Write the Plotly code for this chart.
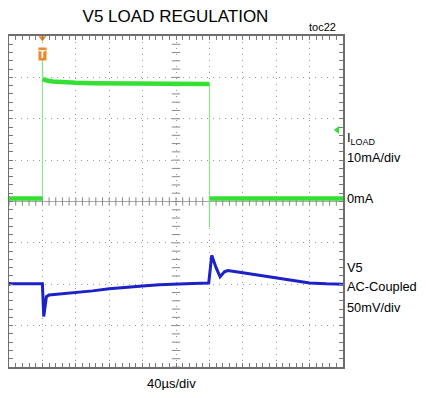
import numpy as np
import plotly.graph_objects as go

# time in divisions (40us/div), signal in divisions
green_lvl_t = [-5.0, -4.0, None, -3.99, -3.9, -3.7, -3.4, -3.0, -2.5, -2.0, -1.0, 0.0, 1.0, None, 1.01, 5.0]
green_lvl_v = [0.07, 0.07, None, 2.96, 2.93, 2.9, 2.88, 2.87, 2.86, 2.86, 2.85, 2.84, 2.84, None, 0.07, 0.07]
green_edge_t = [-4.0, -4.0, -3.99, None, 1.0, 1.0, 1.01]
green_edge_v = [0.07, 3.55, 2.96, None, 2.84, -0.62, 0.07]

blue_t = [-5.0, -4.0, -3.96, -3.88, -3.8, -3.5, -3.0, -2.5, -2.0, -1.5, -1.0, -0.5, 0.0, 0.5, 0.98,
          1.07, 1.2, 1.32, 1.45, 1.55, 2.0, 2.5, 3.0, 3.4, 3.7, 4.0, 4.5, 5.0]
blue_v = [-1.99, -1.99, -2.78, -2.3, -2.26, -2.24, -2.2, -2.16, -2.11, -2.07, -2.04, -2.01, -1.99, -1.98, -1.97,
          -1.3, -1.6, -1.82, -1.7, -1.67, -1.72, -1.78, -1.84, -1.89, -1.93, -1.97, -1.99, -2.0]

trig_t = -4.0
ch1_marker_v = 1.73

GREEN = "#33e033"
BLUE = "#1c22c8"
ORANGE = "#f0862a"
GRID = "#9a9a9a"
FONT = "Liberation Sans, Arial, sans-serif"

# page body has an 8px margin; keep the figure inside the window so no scrollbars show
OFF = 8
W, H = 426 - 2 * OFF, 398 - 2 * OFF
L, T = 9 - OFF, 36 - OFF
R, B = (426 - OFF) - 343, (398 - OFF) - 367
PW, PH = W - L - R, H - T - B


def px(x):
    return (x - OFF - L) / PW


def py(y):
    return (H - B - (y - OFF)) / PH


fig = go.Figure()

# center-line tick marks
fig.add_trace(go.Scatter(x=np.arange(-5, 5.01, 0.2), y=[0] * 51, mode="markers",
                         marker=dict(symbol="line-ns", size=6, line=dict(width=1, color="#8a8a8a")),
                         hoverinfo="skip", showlegend=False))
fig.add_trace(go.Scatter(x=[0] * 41, y=np.arange(-4, 4.01, 0.2), mode="markers",
                         marker=dict(symbol="line-ew", size=6, line=dict(width=1, color="#8a8a8a")),
                         hoverinfo="skip", showlegend=False))

fig.add_trace(go.Scatter(x=green_edge_t, y=green_edge_v, mode="lines",
                         line=dict(color="#7ee87e", width=1), showlegend=False))
fig.add_trace(go.Scatter(x=green_lvl_t, y=green_lvl_v, mode="lines",
                         line=dict(color=GREEN, width=4.5), showlegend=False))
fig.add_trace(go.Scatter(x=blue_t, y=blue_v, mode="lines",
                         line=dict(color=BLUE, width=3), showlegend=False))

# channel markers
fig.add_trace(go.Scatter(x=[4.83], y=[ch1_marker_v], mode="markers", cliponaxis=False,
                         marker=dict(symbol="triangle-left", size=7, color=GREEN), showlegend=False))
fig.add_trace(go.Scatter(x=[-5.0, -5.0], y=[0.07, -1.99], mode="markers", cliponaxis=False,
                         marker=dict(symbol="triangle-right", size=6, color=[GREEN, BLUE]), showlegend=False))
# trigger marker
fig.add_trace(go.Scatter(x=[trig_t], y=[3.95], mode="markers", cliponaxis=False,
                         marker=dict(symbol="triangle-down", size=7, color=ORANGE), showlegend=False))
fig.add_annotation(x=trig_t, xref="x", y=py(47), yref="paper", text="<b>T</b>", showarrow=False,
                   bgcolor=ORANGE, font=dict(family=FONT, size=11, color="white"), borderpad=0)

ax = dict(showticklabels=False, showline=True, linecolor="#6e6e6e", linewidth=1.5, mirror="allticks",
          ticks="inside", ticklen=4, tickcolor="#7a7a7a",
          showgrid=True, gridcolor=GRID, gridwidth=1, griddash="1px,5px")
fig.update_xaxes(range=[-5, 5], dtick=1, zeroline=False,
                 minor=dict(ticks="inside", ticklen=4, dtick=0.2, tickcolor="#7a7a7a", showgrid=False), **ax)
fig.update_yaxes(range=[-4, 4], dtick=1, zeroline=True, zerolinecolor="#a8a8a8", zerolinewidth=1,
                 minor=dict(ticks="inside", ticklen=4, dtick=0.2, tickcolor="#7a7a7a", showgrid=False), **ax)

labels = [
    ("I<sub>LOAD</sub>", 138),
    ("10mA/div", 157),
    ("0mA", 198),
    ("V5", 267),
    ("AC-Coupled", 286),
    ("50mV/div", 307),
]
for txt, y in labels:
    fig.add_annotation(x=px(345), y=py(y), xref="paper", yref="paper", text=txt, showarrow=False,
                       xanchor="left", yanchor="middle", font=dict(family=FONT, size=12.8, color="black"))

fig.add_annotation(x=px(171), y=py(383), xref="paper", yref="paper", text="40µs/div", showarrow=False,
                   xanchor="center", yanchor="middle", font=dict(family=FONT, size=13, color="black"))
fig.add_annotation(x=px(338), y=py(27), xref="paper", yref="paper", text="toc22", showarrow=False,
                   xanchor="right", yanchor="middle", font=dict(family=FONT, size=11, color="black"))

fig.update_layout(
    title=dict(text="V5 LOAD REGULATION", x=(175.5 - OFF) / W, xanchor="center",
               y=1 - (16 - OFF) / H, yanchor="middle",
               font=dict(family=FONT, size=17, color="black")),
    width=W, height=H, margin=dict(l=L, r=R, t=T, b=B),
    plot_bgcolor="white", paper_bgcolor="white",
)

fig.write_html("out.html")
